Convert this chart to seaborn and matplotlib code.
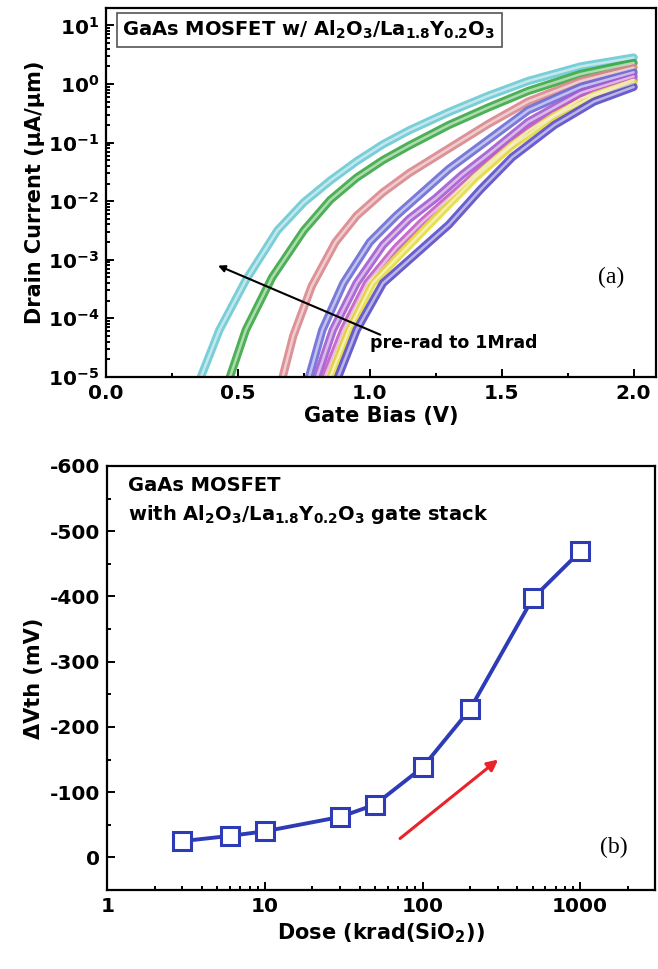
import numpy as np
import pandas as pd
import seaborn as sns
import matplotlib.pyplot as plt
import matplotlib.ticker as mticker

# ---- (a) transfer curves (V, log10 of I in uA/um) ----
doses = ["pre-rad", "d1", "d2", "d3", "d4", "d5", "d6", "1Mrad"]
curve_colors = ["#6cc9d3", "#3aa843", "#d9868c", "#6a6ad6",
                "#a35ad0", "#c35cc4", "#e6dc3c", "#5a4cc8"]

v_cyan = [0.36, 0.43, 0.53, 0.65, 0.75, 0.85, 0.95, 1.05, 1.15, 1.3, 1.45, 1.6, 1.8, 2.0]
logi_cyan = [-5, -4.2, -3.35, -2.5, -2.02, -1.65, -1.32, -1.03, -0.79, -0.48, -0.2, 0.05, 0.3, 0.45]
v_green = [0.47, 0.53, 0.63, 0.75, 0.85, 0.95, 1.05, 1.15, 1.3, 1.45, 1.6, 1.8, 2.0]
logi_green = [-5, -4.2, -3.3, -2.5, -1.98, -1.6, -1.3, -1.05, -0.7, -0.4, -0.12, 0.17, 0.36]
v_pink = [0.67, 0.71, 0.78, 0.87, 0.95, 1.05, 1.15, 1.3, 1.45, 1.6, 1.8, 2.0]
logi_pink = [-5, -4.3, -3.45, -2.7, -2.25, -1.85, -1.52, -1.1, -0.68, -0.3, 0.05, 0.28]
v_blue = [0.77, 0.82, 0.9, 1.0, 1.1, 1.2, 1.3, 1.45, 1.6, 1.8, 2.0]
logi_blue = [-5, -4.2, -3.4, -2.7, -2.25, -1.85, -1.45, -0.95, -0.45, -0.05, 0.2]
v_purple = [0.80, 0.86, 0.95, 1.05, 1.15, 1.25, 1.35, 1.45, 1.6, 1.8, 2.0]
logi_purple = [-5, -4.2, -3.4, -2.75, -2.3, -1.95, -1.55, -1.2, -0.65, -0.15, 0.13]
v_magenta = [0.83, 0.9, 0.99, 1.1, 1.2, 1.3, 1.45, 1.6, 1.8, 2.0]
logi_magenta = [-5, -4.2, -3.4, -2.8, -2.35, -1.95, -1.35, -0.8, -0.25, 0.07]
v_yellow = [0.85, 0.92, 1.01, 1.15, 1.29, 1.4, 1.54, 1.7, 1.85, 2.0]
logi_yellow = [-5, -4.2, -3.4, -2.75, -2.1, -1.6, -1.05, -0.55, -0.2, 0.02]
v_blue2 = [0.88, 0.95, 1.05, 1.2, 1.3, 1.42, 1.54, 1.7, 1.85, 2.0]
logi_blue2 = [-5, -4.2, -3.4, -2.8, -2.4, -1.8, -1.25, -0.7, -0.3, -0.05]

# ---- (b) threshold shift vs dose ----
dose_krad = [3, 6, 10, 30, 50, 100, 200, 500, 1000]
dvth_mv = [-25, -33, -40, -62, -81, -138, -227, -397, -469]

sns.set_theme(style="ticks")
plt.rcParams["font.family"] = ["DejaVu Sans"]
plt.rcParams.update({
    "font.weight": "bold",
    "axes.labelweight": "bold",
    "axes.unicode_minus": False,
    "mathtext.fontset": "dejavusans",
    "mathtext.default": "bf",
    "text.color": "black",
    "axes.labelcolor": "black",
    "xtick.color": "black",
    "ytick.color": "black",
})

all_v = [v_cyan, v_green, v_pink, v_blue, v_purple, v_magenta, v_yellow, v_blue2]
all_logi = [logi_cyan, logi_green, logi_pink, logi_blue, logi_purple, logi_magenta, logi_yellow, logi_blue2]
rows = []
for name, vs, ls in zip(doses, all_v, all_logi):
    for v, l in zip(vs, ls):
        rows.append((name, v, 10.0 ** l))
df_a = pd.DataFrame(rows, columns=["dose", "V", "I"])
df_b = pd.DataFrame({"dose": dose_krad, "dvth": dvth_mv})

fig = plt.figure(figsize=(6.58, 9.69), dpi=100)

# ================= panel (a) =================
ax1 = fig.add_axes([0.161, 0.611, 0.836, 0.381])
pal = dict(zip(doses, curve_colors))
sns.lineplot(data=df_a, x="V", y="I", hue="dose", palette=pal, estimator=None,
             sort=False, lw=6, alpha=0.9, legend=False, ax=ax1)
sns.lineplot(data=df_a, x="V", y="I", units="dose", color="white", estimator=None,
             sort=False, lw=1.8, alpha=0.55, legend=False, ax=ax1)
ax1.set_yscale("log")
ax1.set_xlim(0, 2.085)
ax1.set_ylim(1e-5, 20)
ax1.xaxis.set_major_locator(mticker.MultipleLocator(0.5))
ax1.xaxis.set_minor_locator(mticker.MultipleLocator(0.25))
ax1.xaxis.set_major_formatter(mticker.FormatStrFormatter("%.1f"))
ax1.yaxis.set_major_locator(mticker.LogLocator(base=10, numticks=12))
ax1.yaxis.set_minor_locator(mticker.LogLocator(base=10, subs=np.arange(2, 10), numticks=12))
ax1.yaxis.set_minor_formatter(mticker.NullFormatter())
ax1.set_xlabel("Gate Bias (V)", fontsize=15, labelpad=2)
ax1.set_ylabel("Drain Current (\u03bcA/\u03bcm)", fontsize=15, labelpad=2)

ax1.annotate("", xy=(0.425, 10 ** -3.1), xytext=(1.04, 10 ** -4.28),
             arrowprops=dict(arrowstyle="-|>", color="black", lw=1.5,
                             mutation_scale=10, shrinkA=0, shrinkB=0))
ax1.text(1.0, 10 ** -4.42, "pre-rad to 1Mrad", fontsize=12.5, fontweight="bold",
         ha="left", va="center")
ax1.text(1.915, 10 ** -3.3, "(a)", fontsize=17, family="Liberation Serif",
         fontweight="normal", ha="center", va="center")
ax1.text(0.03, 0.94, r"GaAs MOSFET w/ Al$_2$O$_3$/La$_{1.8}$Y$_{0.2}$O$_3$",
         transform=ax1.transAxes, fontsize=14, fontweight="bold", ha="left", va="center",
         bbox=dict(boxstyle="square,pad=0.3", fc="white", ec="#555555", lw=1.2))

# ================= panel (b) =================
ax2 = fig.add_axes([0.163, 0.0815, 0.833, 0.4376])
sns.lineplot(data=df_b, x="dose", y="dvth", color="#2d3cb6", lw=2.8, marker="s",
             markersize=13, markerfacecolor="white", markeredgecolor="#2d3cb6",
             markeredgewidth=2.2, ax=ax2)
ax2.set_xscale("log")
ax2.set_xlim(1, 3000)
ax2.set_ylim(50, -600)
ax2.xaxis.set_major_locator(mticker.FixedLocator([1, 10, 100, 1000]))
ax2.xaxis.set_major_formatter(mticker.FormatStrFormatter("%d"))
ax2.xaxis.set_minor_locator(mticker.LogLocator(base=10, subs=np.arange(2, 10), numticks=12))
ax2.xaxis.set_minor_formatter(mticker.NullFormatter())
ax2.yaxis.set_major_locator(mticker.MultipleLocator(100))
ax2.yaxis.set_minor_locator(mticker.MultipleLocator(50))
ax2.yaxis.set_major_formatter(mticker.FormatStrFormatter("%d"))
ax2.set_xlabel(r"Dose (krad(SiO$_2$))", fontsize=15, labelpad=4)
ax2.set_ylabel("\u0394Vth (mV)", fontsize=15, labelpad=4)

ax2.annotate("", xy=(302, -150), xytext=(72, -29),
             arrowprops=dict(arrowstyle="-|>", color="#e8232a", lw=2.2,
                             mutation_scale=16, shrinkA=0, shrinkB=0))
ax2.text(0.038, 0.955, "GaAs MOSFET", transform=ax2.transAxes, fontsize=14,
         fontweight="bold", ha="left", va="center")
ax2.text(0.038, 0.885, r"with Al$_2$O$_3$/La$_{1.8}$Y$_{0.2}$O$_3$ gate stack",
         transform=ax2.transAxes, fontsize=14, fontweight="bold", ha="left", va="center")
ax2.text(1640, -15, "(b)", fontsize=17, family="Liberation Serif",
         fontweight="normal", ha="center", va="center")

for ax in (ax1, ax2):
    for s in ax.spines.values():
        s.set_linewidth(1.6)
        s.set_color("black")
    ax.tick_params(which="both", direction="in", top=False, right=False,
                   width=1.4, color="black")
    ax.tick_params(which="major", length=6, labelsize=14.5, pad=5)
    ax.tick_params(which="minor", length=3)
    for lbl in ax.get_xticklabels() + ax.get_yticklabels():
        lbl.set_fontweight("bold")

fig.savefig("out.png", dpi=100)
